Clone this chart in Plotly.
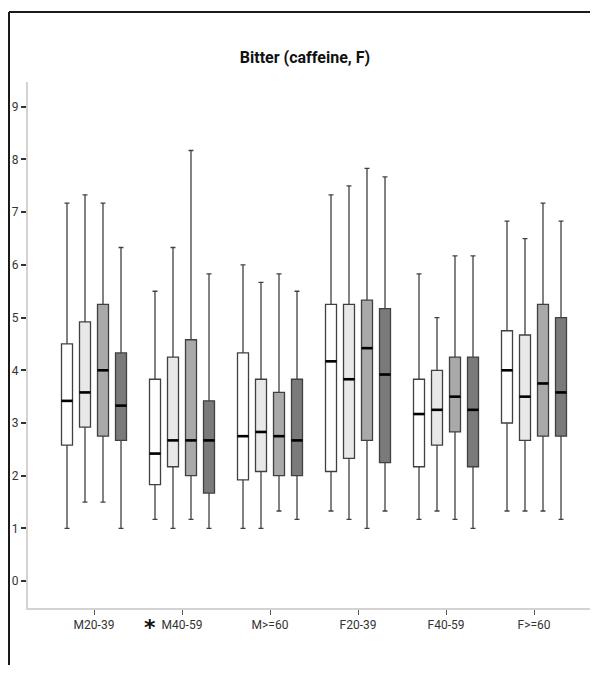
import plotly.graph_objects as go

categories = ["M20-39", "M40-59", "M>=60", "F20-39", "F40-59", "F>=60"]
series_names = ["S1", "S2", "S3", "S4"]

s1_lower = [1.0, 1.17, 1.0, 1.33, 1.17, 1.33]
s1_q1 = [2.58, 1.83, 1.92, 2.08, 2.17, 3.0]
s1_median = [3.42, 2.42, 2.75, 4.17, 3.17, 4.0]
s1_q3 = [4.5, 3.83, 4.33, 5.25, 3.83, 4.75]
s1_upper = [7.17, 5.5, 6.0, 7.33, 5.83, 6.83]

s2_lower = [1.5, 1.0, 1.0, 1.17, 1.33, 1.33]
s2_q1 = [2.92, 2.17, 2.08, 2.33, 2.58, 2.67]
s2_median = [3.58, 2.67, 2.83, 3.83, 3.25, 3.5]
s2_q3 = [4.92, 4.25, 3.83, 5.25, 4.0, 4.67]
s2_upper = [7.33, 6.33, 5.67, 7.5, 5.0, 6.5]

s3_lower = [1.5, 1.17, 1.33, 1.0, 1.17, 1.33]
s3_q1 = [2.75, 2.0, 2.0, 2.67, 2.83, 2.75]
s3_median = [4.0, 2.67, 2.75, 4.42, 3.5, 3.75]
s3_q3 = [5.25, 4.58, 3.58, 5.33, 4.25, 5.25]
s3_upper = [7.17, 8.17, 5.83, 7.83, 6.17, 7.17]

s4_lower = [1.0, 1.0, 1.17, 1.33, 1.0, 1.17]
s4_q1 = [2.67, 1.67, 2.0, 2.25, 2.17, 2.75]
s4_median = [3.33, 2.67, 2.67, 3.92, 3.25, 3.58]
s4_q3 = [4.33, 3.42, 3.83, 5.17, 4.25, 5.0]
s4_upper = [6.33, 5.83, 5.5, 7.67, 6.17, 6.83]

y_ticks = [0, 1, 2, 3, 4, 5, 6, 7, 8, 9]

series = [
    (s1_lower, s1_q1, s1_median, s1_q3, s1_upper),
    (s2_lower, s2_q1, s2_median, s2_q3, s2_upper),
    (s3_lower, s3_q1, s3_median, s3_q3, s3_upper),
    (s4_lower, s4_q1, s4_median, s4_q3, s4_upper),
]
fills = ["#ffffff", "#e8e8e8", "#a9a9a9", "#7a7a7a"]

slot = 18 / 88.0
box_w = 0.125
n = len(series)

fig = go.Figure()
for k, (lo, q1, med, q3, up) in enumerate(series):
    xs = [i + (k - (n - 1) / 2) * slot for i in range(len(categories))]
    fig.add_trace(go.Box(
        x=xs, lowerfence=lo, q1=q1, median=med, q3=q3, upperfence=up,
        width=box_w, whiskerwidth=0.45,
        fillcolor=fills[k], line=dict(color="#404040", width=1.3),
        name=series_names[k], showlegend=False, hoverinfo="skip",
    ))
    fig.add_trace(go.Scatter(
        x=xs, y=med, mode="markers",
        marker=dict(symbol="line-ew", size=8, line=dict(color="#000000", width=2.6)),
        showlegend=False, hoverinfo="skip",
    ))

# page has an 8px body margin; figure is shrunk/shifted so it fits the window
W, H = 582, 657
L, R, T, B = 20, 0, 74, 57
plot_w = W - L - R
plot_h = H - T - B
x_lo = -0.75
x_hi = x_lo + plot_w / 88.0

fig.add_annotation(x=1, xref="x", y=0, yref="paper", xshift=-32, yshift=-34,
                   text="<b>*</b>", showarrow=False,
                   font=dict(family="DejaVu Sans", size=22, color="#111"))

# outer frame: top and left edges, kept inside the figure bounds
fx0 = (1 - L) / plot_w
fx1 = (W - L) / plot_w
fy0 = -B / plot_h
fy1 = (H - B - 4) / plot_h
fig.add_shape(type="line", xref="paper", yref="paper",
              x0=fx0, x1=fx1, y0=fy1, y1=fy1,
              line=dict(color="#1a1a1a", width=2))
fig.add_shape(type="line", xref="paper", yref="paper",
              x0=fx0, x1=fx0, y0=fy0, y1=fy1,
              line=dict(color="#1a1a1a", width=2))

fig.update_layout(
    width=W, height=H,
    margin=dict(l=L, r=R, t=T, b=B, autoexpand=False),
    paper_bgcolor="white", plot_bgcolor="white",
    title=dict(text="<b>Bitter (caffeine, F)</b>", x=297 / W, xanchor="center",
               y=1 - 49 / H, yanchor="middle",
               font=dict(family="Roboto", size=16, color="#111")),
    xaxis=dict(range=[x_lo, x_hi], tickmode="array", tickvals=list(range(len(categories))),
               ticktext=categories, showgrid=False, zeroline=False, mirror=False,
               showline=True, linecolor="#d3d3d3", linewidth=2,
               ticks="outside", ticklen=5, tickcolor="#555", tickwidth=1,
               tickfont=dict(family="Roboto", size=12, color="#333")),
    yaxis=dict(range=[-0.51, 9.47], tickmode="array", tickvals=y_ticks,
               showgrid=False, zeroline=False, mirror=False,
               showline=True, linecolor="#d3d3d3", linewidth=2,
               ticks="outside", ticklen=5, tickcolor="#333", tickwidth=1.5,
               tickfont=dict(family="Roboto", size=12, color="#333")),
)

fig.write_html("out.html")
